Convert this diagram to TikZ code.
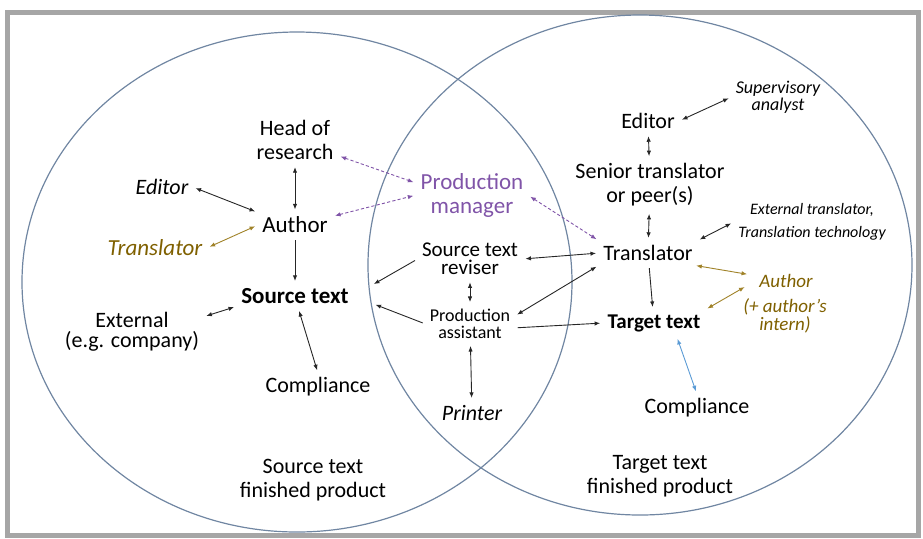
\documentclass[tikz,border=0pt]{standalone}
\usepackage{fontspec}
\setmainfont{Carlito}
\usetikzlibrary{arrows.meta,positioning}
\definecolor{pmpurple}{RGB}{128,84,168}
\definecolor{auolive}{RGB}{127,96,0}
\definecolor{auarrow}{RGB}{160,130,40}
\definecolor{cpblue}{RGB}{91,155,213}
\definecolor{circline}{RGB}{112,134,162}
\definecolor{framegray}{RGB}{166,166,166}

\begin{document}
\begin{tikzpicture}[x=0.5pt, y=-0.5pt,
  >={Latex[length=2.8pt,width=2.2pt]},
  lbl/.style={align=center, inner sep=2pt, font=\fontsize{11}{12}\selectfont},
  big/.style={lbl, font=\fontsize{11.5}{12}\selectfont},
  lnk/.style={draw=black!85, line width=0.45pt, shorten >=1.5pt, shorten <=1.5pt},
  pmlnk/.style={lnk, <->, draw=pmpurple, dash pattern=on 1.6pt off 1.1pt},
  aulnk/.style={lnk, <->, draw=auarrow},
  cplnk/.style={lnk, <->, draw=cpblue}]
  \useasboundingbox (0,0) rectangle (923,538);
  \draw[framegray, line width=2.5pt] (7.5,12.5) rectangle (918,535.5);

  % the two circles
  \draw[circline, line width=0.6pt] (297,282) ellipse [x radius=137.5pt, y radius=125pt];
  \draw[circline, line width=0.6pt] (640,265) ellipse [x radius=136pt, y radius=125pt];

  % Define nodes (source side)
  \node[big]                           (auth) at (295,225) {Author};
  \node[lbl, on grid, above=42.5pt of auth] (head) {Head of\\research};
  \node[big, on grid, below=35.5pt of auth, font=\fontsize{11.5}{12}\selectfont\bfseries] (src) {Source text};
  \node[lbl, font=\fontsize{11}{12}\selectfont\itshape] (edl) at (162,187) {Editor};
  \node[big, text=auolive, font=\fontsize{11.5}{12}\selectfont\itshape] (tro) at (155,248) {Translator};
  \node[lbl, font=\fontsize{11}{10}\selectfont] (ext) at (132,332) {External\\(e.g. company)};
  \node[lbl] (cml) at (318,387) {Compliance};
  \node[lbl] (fpl) at (313,480) {Source text\\finished product};

  % Define nodes (overlap)
  \node[big, text=pmpurple] (pm) at (472,195) {Production\\manager};
  \node[lbl, font=\fontsize{10.5}{9}\selectfont] (rev) at (470,259) {Source text\\reviser};
  \node[lbl, on grid, below=32.5pt of rev, font=\fontsize{9}{8.2}\selectfont] (asst) {Production\\assistant};
  \node[lbl, font=\fontsize{11}{12}\selectfont\itshape] (prn) at (472,413) {Printer};

  % Define nodes (target side)
  \node[lbl] (trr) at (648,253) {Translator};
  \node[lbl] (edr) at (648,121) {Editor};
  \node[lbl] (snr) at (650,185) {Senior translator\\or peer(s)};
  \node[lbl, font=\fontsize{9}{7}\selectfont\itshape] (sup) at (778,97) {Supervisory\\analyst};
  \node[lbl, font=\fontsize{8}{11.5}\selectfont\itshape] (ett) at (812,222) {External translator,\\Translation technology};
  \node[lbl, text=auolive, font=\fontsize{9.5}{10}\selectfont\itshape] (aur) at (786,281) {Author};
  \node[lbl, text=auolive, font=\fontsize{9.5}{8}\selectfont\itshape] (int) at (785,316) {(+ author's\\intern)};
  \node[lbl, font=\fontsize{10.5}{12}\selectfont\bfseries] (tgt) at (654,323) {Target text};
  \node[lbl] (cmr) at (697,408) {Compliance};
  \node[lbl] (fpr) at (660,476) {Target text\\finished product};

  % Connect the nodes
  \draw[lnk,<->] (head) -- (auth);
  \draw[lnk,<->] (edl.east) -- (auth.north west);
  \draw[aulnk] (tro.east) -- (auth.west);
  \draw[lnk,->] (auth) -- (src);
  \draw[pmlnk] (head.-20) -- (pm.168);
  \draw[pmlnk] (auth.13) -- (pm.west);
  \draw[pmlnk] (pm.east) -- (trr.north west);
  \draw[lnk,<->] (ext.12) -- (src.190);
  \draw[lnk,<->] (src.-75) -- (cml.north);
  \draw[lnk,->,shorten >=12pt] (rev.west) -- (src.east);
  \draw[lnk,->,shorten >=12pt] (asst.west) -- (src.east);
  \draw[lnk,<->] (rev.east) -- (trr.west);
  \draw[lnk,<->] (rev) -- (asst);
  \draw[lnk,<->] (asst.10) -- (trr.south west);
  \draw[lnk,->] (asst.-5) -- (tgt.west);
  \draw[lnk,<->] (asst) -- (prn);
  \draw[lnk,<->] (edr.east) -- (sup.west);
  \draw[lnk,<->] (edr) -- (snr);
  \draw[lnk,<->] (snr) -- (trr);
  \draw[lnk,<->] (trr.north east) -- (ett.west);
  \draw[aulnk, shorten >=4pt] (trr.-15) -- (aur.170);
  \draw[aulnk, shorten >=6pt] (tgt.north east) -- (aur.west);
  \draw[lnk,->] (trr) -- (tgt);
  \draw[cplnk] (tgt.-30) -- (cmr.north);
\end{tikzpicture}
\end{document}
